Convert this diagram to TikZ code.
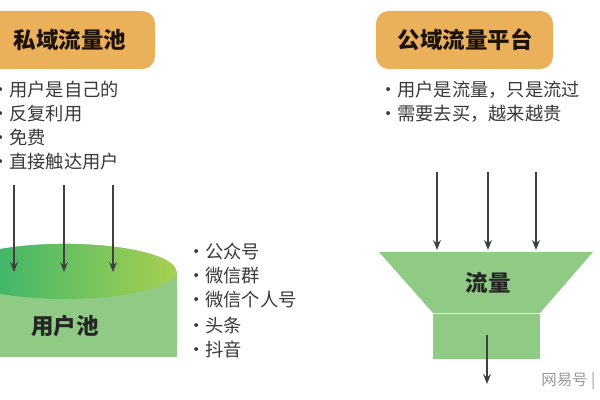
\documentclass[tikz,border=0pt]{standalone}
\usepackage{fontspec}
\usetikzlibrary{arrows.meta}
\setmainfont{Noto Sans CJK SC}
\definecolor{titleorange}{HTML}{EBB05A}
\definecolor{poolgreen}{HTML}{8FCB85}
\definecolor{tealgreen}{HTML}{28B070}
\definecolor{limegreen}{HTML}{A8D050}
\definecolor{textgray}{HTML}{3A3A3A}
\newcommand{\dotitem}[1]{\llap{·}#1}
\tikzset{
  itemtext/.style={anchor=west, inner sep=0pt, text=textgray, font=\fontsize{13}{15}\selectfont},
  boldlabel/.style={inner sep=0pt, text=black!85, font=\bfseries\fontsize{16}{18}\selectfont},
  flowarrow/.style={draw=black!75, line width=0.8pt, -{Stealth[length=7pt, width=5.5pt]}}
}
\begin{document}
\begin{tikzpicture}[x=0.025cm, y=-0.025cm]
    \useasboundingbox (0,0) rectangle (600,400);

    % Title boxes
    \fill[titleorange, rounded corners=9pt] (-20,11) rectangle (155,69);
    \node[boldlabel, text=black!85!brown] (privtitle) at (70,40) {私域流量池};
    \fill[titleorange, rounded corners=9pt] (376,11) rectangle (553,69);
    \node[boldlabel, text=black!85!brown] (pubtitle) at (465,40) {公域流量平台};

    % Private pool items
    \node[itemtext] (p1) at (9,90) {\dotitem{用户是自己的}};
    \node[itemtext] (p2) at (9,114) {\dotitem{反复利用}};
    \node[itemtext] (p3) at (9,138) {\dotitem{免费}};
    \node[itemtext] (p4) at (9,162) {\dotitem{直接触达用户}};

    % Public platform items
    \node[itemtext] (q1) at (397,90) {\dotitem{用户是流量，只是流过}};
    \node[itemtext] (q2) at (397,114) {\dotitem{需要去买，越来越贵}};

    % User pool cylinder
    \fill[poolgreen] (-47,271) rectangle (177,357);
    \shade[left color=tealgreen, right color=limegreen] (65,271) ellipse (112 and 28);
    \draw[white, line width=1pt] (-47,271) arc (180:360:112 and 28);
    \node[boldlabel] (pool) at (65,326) {用户池};

    % Channels
    \node[itemtext] (c1) at (205,252) {\dotitem{公众号}};
    \node[itemtext] (c2) at (205,276) {\dotitem{微信群}};
    \node[itemtext] (c3) at (205,300) {\dotitem{微信个人号}};
    \node[itemtext] (c4) at (205,325) {\dotitem{头条}};
    \node[itemtext] (c5) at (205,349) {\dotitem{抖音}};

    % Funnel
    \fill[poolgreen] (379,252) -- (593,252) -- (540,313) -- (433,313) -- cycle;
    \fill[poolgreen] (433,314) rectangle (540,359);
    \draw[white!80!poolgreen, line width=0.8pt] (433,313.5) -- (540,313.5);
    \node[boldlabel] (flow) at (488,283) {流量};

    % Arrows into pool
    \foreach \x [count=\i] in {14,64,113} {
        \coordinate (ls\i) at (\x,185);
        \coordinate (le\i) at (\x,272);
        \draw[flowarrow] (ls\i) -- (le\i);
    }

    % Arrows into funnel
    \foreach \x [count=\i] in {437,488,536} {
        \coordinate (rs\i) at (\x,172);
        \coordinate (re\i) at (\x,250);
        \draw[flowarrow] (rs\i) -- (re\i);
    }

    % Arrow out of funnel
    \coordinate (outs) at (487,335);
    \coordinate (oute) at (487,384);
    \draw[flowarrow] (outs) -- (oute);

    % Watermark
    \node[anchor=west, inner sep=0pt, text=black!40, font=\itshape\fontsize{11}{13}\selectfont] (mark) at (541,381) {网易号 |};
\end{tikzpicture}
\end{document}
